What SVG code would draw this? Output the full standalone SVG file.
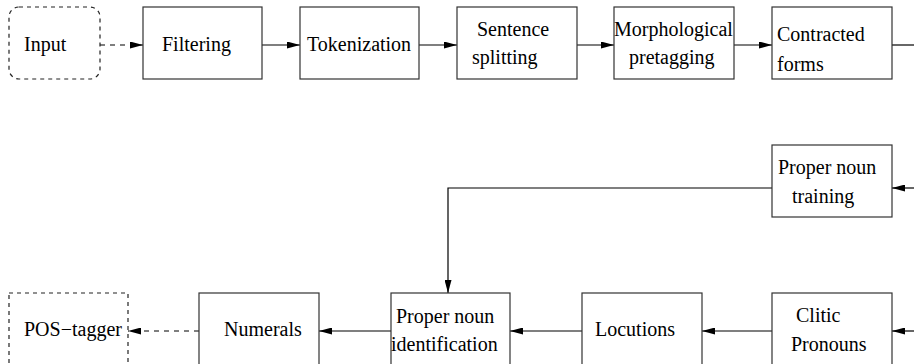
<svg xmlns="http://www.w3.org/2000/svg" width="914" height="364" viewBox="0 0 914 364">
<style>
  .box{fill:#fff;stroke:#333;stroke-width:1.2}
  .dbox{fill:#fff;stroke:#222;stroke-width:1.2;stroke-dasharray:4 4}
  .t{font-family:"Liberation Serif","Times New Roman",serif;font-size:20px;fill:#000}
  .ln{fill:none;stroke:#000;stroke-width:1.2}
  .dl{fill:none;stroke:#000;stroke-width:1.2;stroke-dasharray:5 5}
</style>
<defs>
  <marker id="ah" markerUnits="userSpaceOnUse" viewBox="0 0 13 7" refX="13" refY="3.5" markerWidth="13" markerHeight="7" orient="auto">
    <path d="M0,0 L13,3.5 L0,7 Z" fill="#000"/>
  </marker>
</defs>
<rect width="914" height="364" fill="#fff"/>
<g id="connectors">
  <line class="dl" x1="100" y1="45" x2="143" y2="45" marker-end="url(#ah)"/>
  <line class="ln" x1="262" y1="45" x2="300" y2="45" marker-end="url(#ah)"/>
  <line class="ln" x1="419" y1="45" x2="457" y2="45" marker-end="url(#ah)"/>
  <line class="ln" x1="577" y1="45" x2="614" y2="45" marker-end="url(#ah)"/>
  <line class="ln" x1="734" y1="45" x2="772" y2="45" marker-end="url(#ah)"/>
  <line class="ln" x1="892" y1="45" x2="914" y2="45"/>
  <line class="ln" x1="914" y1="188" x2="892" y2="188" marker-end="url(#ah)"/>
  <polyline class="ln" points="772,188 448,188 448,293" marker-end="url(#ah)"/>
  <line class="ln" x1="914" y1="331" x2="892" y2="331" marker-end="url(#ah)"/>
  <line class="ln" x1="772" y1="331" x2="702" y2="331" marker-end="url(#ah)"/>
  <line class="ln" x1="582" y1="331" x2="510" y2="331" marker-end="url(#ah)"/>
  <line class="ln" x1="391" y1="331" x2="319" y2="331" marker-end="url(#ah)"/>
  <line class="dl" x1="199" y1="331" x2="128" y2="331" marker-end="url(#ah)"/>
</g>
<g id="input">
  <rect class="dbox" x="9" y="7" width="91" height="72" rx="10" ry="10"/>
  <text class="t" x="24" y="51">Input</text>
</g>
<g id="filtering">
  <rect class="box" x="143" y="7" width="119" height="72"/>
  <text class="t" x="162" y="51">Filtering</text>
</g>
<g id="tokenization">
  <rect class="box" x="300" y="7" width="119" height="72"/>
  <text class="t" x="307" y="51">Tokenization</text>
</g>
<g id="sentence">
  <rect class="box" x="457" y="7" width="120" height="72"/>
  <text class="t" x="477" y="36">Sentence</text>
  <text class="t" x="472" y="64">splitting</text>
</g>
<g id="morph">
  <rect class="box" x="614" y="7" width="120" height="72"/>
  <text class="t" x="614" y="36">Morphological</text>
  <text class="t" x="629" y="64">pretagging</text>
</g>
<g id="contracted">
  <rect class="box" x="772" y="7" width="120" height="72"/>
  <text class="t" x="777" y="41">Contracted</text>
  <text class="t" x="777" y="71">forms</text>
</g>
<g id="pntraining">
  <rect class="box" x="772" y="145" width="120" height="72"/>
  <text class="t" x="778" y="174">Proper noun</text>
  <text class="t" x="792" y="203">training</text>
</g>
<g id="clitic">
  <rect class="box" x="772" y="293" width="120" height="72"/>
  <text class="t" x="796" y="322">Clitic</text>
  <text class="t" x="791" y="351">Pronouns</text>
</g>
<g id="locutions">
  <rect class="box" x="582" y="293" width="120" height="72"/>
  <text class="t" x="595" y="336">Locutions</text>
</g>
<g id="pnident">
  <rect class="box" x="391" y="293" width="119" height="72"/>
  <text class="t" x="396" y="323">Proper noun</text>
  <text class="t" x="391" y="351">identification</text>
</g>
<g id="numerals">
  <rect class="box" x="199" y="293" width="120" height="72"/>
  <text class="t" x="224" y="336">Numerals</text>
</g>
<g id="postagger">
  <rect class="dbox" x="9" y="293" width="119" height="72"/>
  <text class="t" x="24" y="336">POS−tagger</text>
</g>
</svg>
